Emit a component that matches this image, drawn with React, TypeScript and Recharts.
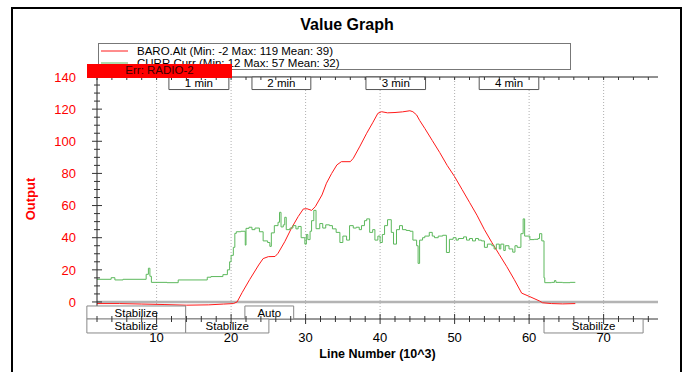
import React from 'react';
import {
  LineChart,
  Line,
  XAxis,
  YAxis,
  ReferenceLine,
  ReferenceArea,
  Legend,
} from 'recharts';

// BARO.Alt samples: [line number (10^3), altitude]
const baroAlt: [number, number][] = [
  [2, -1], [5, -1], [8, -1.3], [11, -1.6], [14, -2], [17, -1.8], [19, -1.3], [20.3, -1],
  [20.8, 0], [21.5, 6], [22.5, 14], [23.7, 23], [24.3, 27], [25, 28.2], [25.9, 28.3],
  [26.3, 30.3], [27.2, 37.5], [28.1, 45.9], [29, 53.1], [29.7, 57.9], [30.2, 58], [30.8, 57],
  [31.3, 59.3], [32.2, 66.6], [32.8, 73.9], [33.5, 80], [34.2, 85.3], [34.8, 87.3], [36.0, 87.3],
  [36.4, 89.4], [37.3, 97], [38.2, 105], [39, 111.5], [39.7, 117.4], [40.2, 118.4], [41, 117.7],
  [42, 117.9], [43, 118.3], [44, 119], [44.4, 118.4], [44.9, 116.4], [45.3, 113],
  [46, 108], [47, 100.5], [48, 93], [49, 85], [50, 78], [51, 70], [52, 62], [53, 54], [54, 45],
  [55, 37], [56, 29.5], [57, 22], [58, 14], [59, 5.5], [60.1, 3.3], [61.4, 0.6], [61.8, -0.5],
  [63, -1], [64.5, -1.2], [66.2, -1],
];

// CURR.Curr samples: [line number (10^3), current]
const currCurr: [number, number][] = [
  [2.0, 14.1], [3.9, 15.1], [4.4, 13.7], [5.5, 14.1], [8.6, 17.2], [8.9, 21], [9.1, 16], [9.3, 12.2],
  [11.4, 12], [12.9, 13.7], [16.8, 15.4], [17.3, 15.8], [18.9, 17], [19.5, 20], [19.8, 25], [20.0, 29],
  [20.3, 34], [20.5, 42.7], [20.7, 43.7], [21.3, 44], [21.9, 35.4], [22.0, 45.8], [22.4, 46.5],
  [22.8, 45], [23.2, 46], [23.8, 43.7], [24.3, 38], [24.9, 37], [25.2, 34.6], [25.4, 43], [25.8, 47.5],
  [26.3, 49.6], [26.5, 55.8], [26.7, 46.7], [27.0, 48], [27.2, 52.7], [27.4, 45], [27.9, 46],
  [28.3, 47.5], [28.7, 45.5], [29.0, 47], [29.4, 40], [29.9, 36], [30.1, 42], [30.3, 38.8], [30.6, 44],
  [30.8, 50.6], [31.1, 57], [31.4, 45.6], [31.9, 48.8], [32.3, 46], [32.7, 48], [33.2, 47.5],
  [33.6, 45.5], [34.1, 43.3], [34.6, 37], [35.0, 41], [35.5, 38.5], [35.9, 47.5], [36.4, 46],
  [36.8, 46.5], [37.2, 45], [37.5, 47.5], [37.9, 50.6], [38.2, 51.7], [38.6, 43.3], [39.0, 45],
  [39.3, 38.5], [39.7, 41], [40.0, 37], [40.3, 42], [40.6, 47.5], [41.0, 51.2], [41.5, 43.3],
  [41.8, 36], [42.2, 45], [42.6, 47.5], [43.0, 45], [43.5, 44.5], [44.0, 44], [44.4, 38.5], [44.9, 35],
  [45.1, 24], [45.3, 38.5], [45.7, 40], [46.0, 41], [46.6, 43.3], [47.0, 41], [47.3, 40], [47.8, 41],
  [48.4, 41.5], [48.9, 30.8], [49.3, 39], [49.8, 40], [50.2, 38.5], [50.5, 39.5], [51.2, 40.5],
  [51.6, 38.5], [52.0, 39.5], [52.4, 38], [52.8, 39.5], [53.2, 38.5], [53.6, 38], [54.0, 34],
  [54.4, 36], [55.0, 35], [55.3, 33], [55.6, 36], [56.0, 33], [56.2, 36], [56.6, 32], [56.8, 35],
  [57.3, 33], [57.8, 31], [58.1, 35], [58.4, 34], [58.9, 42.5], [59.2, 51.7], [59.4, 41], [60.1, 38.8],
  [60.7, 39], [61.2, 39.5], [61.4, 42.5], [61.7, 38], [62.0, 15], [62.1, 12], [63.0, 12.2],
  [63.4, 13.3], [63.6, 12.2], [64.5, 12], [65.5, 12.2], [66.2, 12.2],
];

const seriesNames = [
  'BARO.Alt (Min: -2 Max: 119 Mean: 39)',
  'CURR.Curr (Min: 12 Max: 57 Mean: 32)',
];

// Axis ticks (minor ticks carry no label)
const xTicks = [
  2, 4, 6, 8, 10, 12, 14, 16, 18, 20, 22, 24, 26, 28, 30, 32, 34, 36, 38,
  40, 42, 44, 46, 48, 50, 52, 54, 56, 58, 60, 62, 64, 66, 68, 70, 72, 74, 76,
];
const xTickLabels = [10, 20, 30, 40, 50, 60, 70];
const yTicks = [
  0, 5, 10, 15, 20, 25, 30, 35, 40, 45, 50, 55, 60, 65, 70,
  75, 80, 85, 90, 95, 100, 105, 110, 115, 120, 125, 130, 135, 140,
];
const yTickLabels = [0, 20, 40, 60, 80, 100, 120, 140];

// Elapsed-time markers along the top (line number span)
const timeMarks = [
  { label: '1 min', from: 11.65, to: 19.7 },
  { label: '2 min', from: 22.8, to: 30.7 },
  { label: '3 min', from: 38.1, to: 46.1 },
  { label: '4 min', from: 53.3, to: 61.3 },
];

// Flight-mode spans along the bottom, in two lanes
const modeLane1 = [
  { label: 'Stabilize', from: 0.64, to: 13.9 },
  { label: 'Auto', from: 21.85, to: 28.4 },
];
const modeLane2 = [
  { label: 'Stabilize', from: 0.64, to: 13.9 },
  { label: 'Stabilize', from: 13.9, to: 25.07 },
  { label: 'Stabilize', from: 62.0, to: 75.3 },
];

const X_DOMAIN: [number, number] = [2, 77.3];
const Y_DOMAIN: [number, number] = [-10.6, 140];
const FONT = '"Liberation Sans", Arial, sans-serif';

const baroData = baroAlt.map(([x, y]) => ({ x, y }));
const currData = currCurr.map(([x, y]) => ({ x, y }));

const BottomTick = (props: any) => {
  const { x, y, payload } = props;
  const v = payload.value as number;
  const major = xTickLabels.includes(v);
  const len = major ? 5 : 3;
  return (
    <g>
      <line x1={x} x2={x} y1={y - len} y2={y + len} stroke="#333" />
      {major && (
        <text x={x} y={y + 23} textAnchor="middle" fontSize={13} fill="#000" fontFamily={FONT}>
          {v}
        </text>
      )}
    </g>
  );
};

const TopTick = (props: any) => {
  const { x, y } = props;
  return <line x1={x} x2={x} y1={y} y2={y + 3} stroke="#333" />;
};

const LeftTick = (props: any) => {
  const { x, y, payload } = props;
  const v = payload.value as number;
  const major = yTickLabels.includes(v);
  const len = major ? 5 : 3;
  return (
    <g>
      <line x1={x - len} x2={x + len} y1={y} y2={y} stroke="#333" />
      {major && (
        <text x={x - 21} y={y} dy="0.36em" textAnchor="end" fontSize={13} fill="#ff0000" fontFamily={FONT}>
          {v}
        </text>
      )}
    </g>
  );
};

const LegendBox = (props: any) => {
  const payload = (props.payload || []) as any[];
  return (
    <div
      style={{
        border: '1px solid #777',
        background: '#fff',
        height: 27,
        boxSizing: 'border-box',
        paddingTop: 0.5,
        fontFamily: FONT,
        fontSize: 11.5,
        color: '#000',
        textAlign: 'left',
      }}
    >
      {payload.map((entry: any) => (
        <div key={entry.value} style={{ display: 'flex', alignItems: 'center', height: 12.5, whiteSpace: 'nowrap' }}>
          <svg width={38} height={12} style={{ flex: 'none' }}>
            <line x1={2} x2={29} y1={6} y2={6} stroke={entry.color} strokeWidth={1} />
          </svg>
          <span>{entry.value}</span>
        </div>
      ))}
    </div>
  );
};

const boxStyle = {
  fill: '#fff',
  fillOpacity: 1,
  strokeWidth: 1,
  ifOverflow: 'visible' as const,
};

const boxLabel = (value: string) => ({
  value,
  position: 'center' as const,
  fill: '#000',
  fontSize: 11.5,
  fontFamily: FONT,
});

export default function App() {
  return (
    <div
      style={{
        position: 'absolute',
        left: 0,
        top: 0,
        width: 687,
        height: 372,
        overflow: 'hidden',
        background: '#fff',
        fontFamily: FONT,
      }}
    >
      <div
        style={{
          position: 'absolute',
          left: 11,
          top: 7,
          width: 671,
          height: 400,
          border: '2px solid #000',
          boxSizing: 'border-box',
        }}
      />
      <div
        style={{
          position: 'absolute',
          left: 247,
          top: 15,
          width: 200,
          textAlign: 'center',
          fontWeight: 'bold',
          fontSize: 16,
          lineHeight: '20px',
          color: '#000',
        }}
      >
        Value Graph
      </div>
      <div
        style={{
          position: 'absolute',
          left: 30,
          top: 199,
          transform: 'translate(-50%, -50%) rotate(-90deg)',
          fontWeight: 'bold',
          fontSize: 13,
          color: '#ff0000',
          whiteSpace: 'nowrap',
        }}
      >
        Output
      </div>
      <div style={{ position: 'absolute', left: 0, top: 0 }}>
        <LineChart
          width={687}
          height={372}
          margin={{ top: 67, right: 29, bottom: 23, left: 57 }}
          style={{ fontFamily: FONT }}
        >
          <XAxis
            dataKey="x"
            type="number"
            domain={X_DOMAIN}
            allowDataOverflow
            ticks={xTicks}
            interval={0}
            tickSize={0}
            tickMargin={0}
            tickLine={false}
            tick={<BottomTick />}
            height={30}
            axisLine={{ stroke: '#333' }}
            label={{
              value: 'Line Number (10^3)',
              position: 'bottom',
              offset: 0,
              fontWeight: 'bold',
              fontSize: 12.5,
              fill: '#000',
            }}
          />
          <XAxis
            xAxisId="top"
            orientation="top"
            dataKey="x"
            type="number"
            domain={X_DOMAIN}
            allowDataOverflow
            ticks={xTicks}
            interval={0}
            tickSize={0}
            tickMargin={0}
            tickLine={false}
            tick={<TopTick />}
            height={10}
            axisLine={{ stroke: '#222' }}
          />
          <YAxis
            type="number"
            domain={Y_DOMAIN}
            allowDataOverflow
            ticks={yTicks}
            interval={0}
            tickSize={0}
            tickMargin={0}
            tickLine={false}
            tick={<LeftTick />}
            width={40}
            axisLine={{ stroke: '#222' }}
          />
          <YAxis
            yAxisId="right"
            orientation="right"
            type="number"
            domain={Y_DOMAIN}
            width={0}
            tick={false}
            tickLine={false}
            axisLine={{ stroke: '#666' }}
          />
          {xTickLabels.map((v) => (
            <ReferenceLine key={`g${v}`} x={v} stroke="#b0b0b0" strokeDasharray="1 2" />
          ))}
          <ReferenceLine y={0} stroke="#b4b4b4" strokeWidth={2.5} />
          <Line
            data={baroData}
            dataKey="y"
            name={seriesNames[0]}
            type="linear"
            stroke="#ff1a1a"
            strokeWidth={1}
            dot={false}
            isAnimationActive={false}
          />
          <Line
            data={currData}
            dataKey="y"
            name={seriesNames[1]}
            type="stepAfter"
            stroke="#5cb85c"
            strokeWidth={1}
            dot={false}
            isAnimationActive={false}
          />
          {timeMarks.map((m) => (
            <ReferenceArea
              key={m.label}
              x1={m.from}
              x2={m.to}
              y1={132.2}
              y2={140}
              stroke="#555"
              {...boxStyle}
              zIndex={1500}
              label={boxLabel(m.label)}
            />
          ))}
          {modeLane1.map((m, i) => (
            <ReferenceArea
              key={`l1${i}`}
              x1={m.from}
              x2={m.to}
              y1={-10.6}
              y2={-2.5}
              stroke="#888"
              {...boxStyle}
              zIndex={1500}
              label={boxLabel(m.label)}
            />
          ))}
          {modeLane2.map((m, i) => (
            <ReferenceArea
              key={`l2${i}`}
              x1={m.from}
              x2={m.to}
              y1={-19.3}
              y2={-10.6}
              stroke="#888"
              {...boxStyle}
              zIndex={1500}
              label={boxLabel(m.label)}
            />
          ))}
          <Legend
            layout="horizontal"
            verticalAlign="middle"
            align="center"
            content={<LegendBox />}
            wrapperStyle={{ position: 'absolute', left: 98, top: 43, width: 473, height: 27 }}
          />
        </LineChart>
      </div>
      <div
        style={{
          position: 'absolute',
          left: 87,
          top: 64,
          width: 145,
          height: 13.5,
          background: '#ff0000',
          color: '#3a0000',
          fontSize: 11.5,
          lineHeight: '13.5px',
          textAlign: 'center',
        }}
      >
        Err: RADIO-2
      </div>
    </div>
  );
}
